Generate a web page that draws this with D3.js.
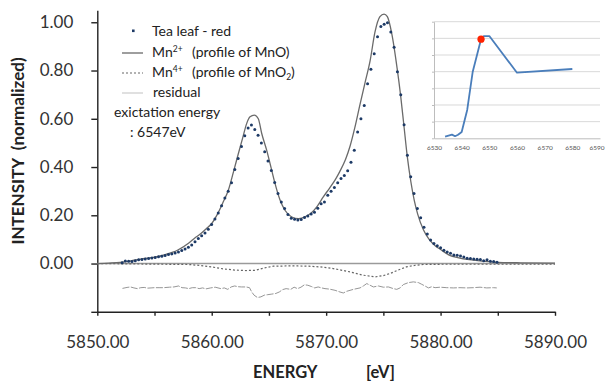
<!DOCTYPE html>
<html><head><meta charset="utf-8">
<script src="https://cdn.jsdelivr.net/npm/d3@7"></script>
<style>html,body{margin:0;padding:0;background:#fff;}svg{display:block;}</style>
</head><body>
<svg id="c" width="605" height="383"></svg>
<script>
// ---------- data ----------
const xTicks = [5850,5855,5860,5865,5870,5875,5880,5885,5890];
const yTicks = [-0.2,0,0.2,0.4,0.6,0.8,1.0];
// measured spectrum: Tea leaf - red  [energy, intensity]
const teaLeaf = [
[5852.17,0.003],[5852.45,0.011],[5852.74,0.010],[5853.03,0.008],[5853.32,0.012],[5853.61,0.016],
[5853.9,0.017],[5854.19,0.019],[5854.48,0.021],[5854.77,0.023],[5855.06,0.025],[5855.35,0.028],
[5855.64,0.030],[5855.93,0.033],[5856.22,0.037],[5856.51,0.040],[5856.8,0.044],[5857.09,0.048],
[5857.38,0.054],[5857.67,0.060],[5857.96,0.068],[5858.25,0.077],[5858.54,0.090],[5858.83,0.104],
[5859.12,0.115],[5859.41,0.127],[5859.7,0.142],[5859.99,0.162],[5860.28,0.185],[5860.57,0.210],
[5860.86,0.240],[5861.15,0.272],[5861.44,0.300],[5861.73,0.335],[5862.02,0.390],[5862.31,0.435],
[5862.6,0.485],[5862.89,0.530],[5863.18,0.562],[5863.47,0.574],[5863.76,0.556],[5864.05,0.532],
[5864.34,0.500],[5864.63,0.463],[5864.92,0.425],[5865.21,0.386],[5865.5,0.336],[5865.79,0.290],
[5866.08,0.255],[5866.37,0.228],[5866.66,0.203],[5866.95,0.188],[5867.24,0.184],[5867.53,0.180],
[5867.82,0.183],[5868.11,0.191],[5868.4,0.197],[5868.69,0.205],[5868.98,0.213],[5869.27,0.229],
[5869.56,0.248],[5869.85,0.255],[5870.14,0.283],[5870.43,0.300],[5870.72,0.315],[5871.01,0.335],
[5871.3,0.352],[5871.59,0.365],[5871.88,0.385],[5872.17,0.420],[5872.46,0.470],[5872.75,0.545],
[5873.04,0.600],[5873.33,0.655],[5873.62,0.745],[5873.91,0.805],[5874.2,0.870],[5874.49,0.940],
[5874.78,0.982],[5875.07,0.992],[5875.36,0.998],[5875.65,0.960],[5875.94,0.896],[5876.23,0.795],
[5876.52,0.700],[5876.81,0.575],[5877.1,0.449],[5877.39,0.360],[5877.68,0.290],[5877.97,0.228],
[5878.26,0.190],[5878.55,0.150],[5878.84,0.122],[5879.13,0.098],[5879.42,0.083],[5879.71,0.074],
[5880.0,0.065],[5880.29,0.055],[5880.58,0.048],[5880.87,0.043],[5881.16,0.035],[5881.45,0.034],
[5881.74,0.031],[5882.03,0.027],[5882.32,0.022],[5882.61,0.021],[5882.9,0.019],[5883.19,0.018],
[5883.48,0.017],[5883.77,0.012],[5884.06,0.016],[5884.35,0.010],[5884.64,0.008],[5884.93,0.005]
];
// Mn2+ (profile of MnO)
const mn2 = [
[5850,0.000],[5851,0.002],[5852,0.005],[5853,0.012],[5854,0.020],[5855,0.027],[5856,0.038],
[5857,0.055],[5858,0.085],[5858.5,0.105],[5859,0.122],[5859.5,0.143],[5860,0.166],[5860.5,0.205],
[5861,0.255],[5861.45,0.304],[5861.9,0.380],[5862.33,0.456],[5862.7,0.520],[5863.06,0.581],
[5863.35,0.608],[5863.72,0.615],[5864.07,0.600],[5864.37,0.539],[5864.8,0.470],[5865.24,0.387],
[5865.53,0.332],[5865.97,0.263],[5866.4,0.221],[5867.0,0.193],[5867.6,0.186],[5868.2,0.195],
[5868.7,0.210],[5869.2,0.236],[5869.75,0.276],[5870.3,0.313],[5870.8,0.348],[5871.2,0.382],
[5871.7,0.432],[5872.1,0.488],[5872.5,0.562],[5872.96,0.660],[5873.4,0.750],[5873.84,0.840],
[5874.27,0.960],[5874.7,1.023],[5875.06,1.034],[5875.35,1.023],[5875.73,0.954],[5876.2,0.810],
[5876.5,0.700],[5876.8,0.570],[5877.1,0.440],[5877.4,0.340],[5877.7,0.262],[5878.0,0.205],
[5878.5,0.140],[5879.0,0.100],[5879.5,0.075],[5880.0,0.058],[5880.8,0.034],[5881.5,0.025],
[5882.5,0.016],[5883.7,0.010],[5885,0.005],[5887,0.003],[5890,0.002]
];
// Mn4+ (profile of MnO2)
const mn4 = [
[5850,0.000],[5852,-0.001],[5854,-0.002],[5856,-0.003],[5858,-0.004],[5859,-0.008],[5860,-0.014],
[5861,-0.022],[5862,-0.027],[5863,-0.029],[5863.8,-0.028],[5864.6,-0.018],[5865.4,-0.011],
[5866.5,-0.010],[5867.5,-0.010],[5868.5,-0.011],[5869.5,-0.014],[5870.4,-0.019],[5871.3,-0.027],
[5872.1,-0.035],[5873.2,-0.048],[5874.3,-0.055],[5875.0,-0.050],[5875.6,-0.041],[5876.3,-0.027],
[5877.0,-0.014],[5877.8,-0.007],[5878.5,-0.004],[5880,-0.003],[5885,-0.003],[5890,-0.003]
];
// residual (offset)
const residual = [
[5852.2,-0.103],[5852.6,-0.099],[5852.9,-0.097],[5853.2,-0.101],[5853.5,-0.104],[5853.8,-0.100],
[5854.1,-0.099],[5854.4,-0.102],[5854.7,-0.101],[5855.0,-0.100],[5855.4,-0.100],[5855.8,-0.100],
[5856.3,-0.098],[5856.7,-0.097],[5857.1,-0.093],[5857.4,-0.100],[5857.7,-0.101],[5858.0,-0.104],
[5858.3,-0.100],[5858.6,-0.100],[5858.9,-0.104],[5859.2,-0.101],[5859.5,-0.105],[5859.9,-0.101],
[5860.3,-0.098],[5860.8,-0.104],[5861.1,-0.101],[5861.4,-0.107],[5861.7,-0.097],[5862.0,-0.093],
[5862.3,-0.096],[5862.6,-0.097],[5863.0,-0.097],[5863.3,-0.100],[5863.5,-0.118],[5863.7,-0.131],
[5864.0,-0.141],[5864.3,-0.138],[5864.6,-0.131],[5864.9,-0.129],[5865.2,-0.127],[5865.6,-0.124],
[5865.9,-0.118],[5866.2,-0.108],[5866.5,-0.104],[5866.9,-0.107],[5867.2,-0.098],[5867.5,-0.104],
[5867.8,-0.098],[5868.1,-0.088],[5868.4,-0.090],[5868.7,-0.095],[5869.0,-0.101],[5869.3,-0.097],
[5869.6,-0.101],[5869.9,-0.104],[5870.3,-0.106],[5870.78,-0.111],[5871.21,-0.118],[5871.5,-0.122],
[5871.8,-0.115],[5872.38,-0.107],[5872.96,-0.101],[5873.25,-0.093],[5873.55,-0.083],[5873.84,-0.090],
[5874.13,-0.097],[5874.57,-0.093],[5875.0,-0.098],[5875.44,-0.097],[5875.88,-0.104],[5876.17,-0.107],
[5876.46,-0.101],[5876.75,-0.087],[5877.19,-0.079],[5877.62,-0.076],[5878.06,-0.079],[5878.35,-0.086],
[5878.64,-0.093],[5878.94,-0.101],[5879.23,-0.096],[5879.52,-0.100],[5879.96,-0.098],[5880.54,-0.100],
[5881.12,-0.101],[5881.7,-0.100],[5882.29,-0.101],[5882.87,-0.100],[5883.45,-0.098],[5884.03,-0.101],
[5884.62,-0.100],[5884.91,-0.101]
];
// inset: excitation spectrum
const insetXTicks = [6530,6540,6550,6560,6570,6580,6590];
const insetYTicks = [0,0.2,0.4,0.6,0.8,1.0,1.2,1.4];
const insetLine = [
[6534,0.020],[6536.5,0.044],[6537.6,0.025],[6538.7,0.042],[6540,0.076],[6542,0.34],[6544,0.80],
[6547,1.19],[6548,1.228],[6550,1.228],[6560,0.788],[6580,0.832]
];
const insetMarker = [[6547,1.19]];

// ---------- drawing ----------
const svg = d3.select("#c");
const FONT = "Lato, 'Open Sans', sans-serif";
const x = d3.scaleLinear().domain([5850,5890]).range([97.3,555]);
const y = d3.scaleLinear().domain([-0.2,1.05]).range([311.8,10.2]);

// x axis
const xAxis = d3.axisBottom(x).tickValues(xTicks).tickSize(4).tickSizeOuter(0).tickPadding(20)
  .tickFormat(d => d % 10 === 0 ? d3.format(".2f")(d) : "");
const gx = svg.append("g").attr("transform", `translate(0,${y(-0.2)})`).call(xAxis);
gx.selectAll("text").attr("font-family", FONT).attr("font-size", 17).attr("fill", "#333");
gx.selectAll("line,path").attr("stroke", "#222").attr("stroke-width", 1.4);

// y axis
const yAxis = d3.axisLeft(y).tickValues(yTicks).tickSize(6).tickSizeOuter(0).tickPadding(18)
  .tickFormat(d => d < -0.01 ? "" : d3.format(".2f")(d));
const gy = svg.append("g").attr("transform", `translate(${x(5850)},0)`).call(yAxis);
gy.selectAll("text").attr("font-family", FONT).attr("font-size", 17).attr("fill", "#333");
gy.selectAll("line,path").attr("stroke", "#222").attr("stroke-width", 1.4);

// zero line
svg.append("line").attr("x1", x(5850)).attr("x2", x(5890)).attr("y1", y(0)).attr("y2", y(0))
  .attr("stroke", "#9a9a9a").attr("stroke-width", 1.4);

const line = d3.line().x(d => x(d[0])).y(d => y(d[1]));
svg.append("path").datum(residual).attr("d", line).attr("fill", "none")
  .attr("stroke", "#8a8a8a").attr("stroke-width", 0.9).attr("stroke-dasharray", "7,1.5");
svg.append("path").datum(mn4).attr("d", line).attr("fill", "none")
  .attr("stroke", "#666").attr("stroke-width", 1.2).attr("stroke-dasharray", "2,2");
svg.append("path").datum(mn2).attr("d", d3.line().curve(d3.curveMonotoneX).x(d => x(d[0])).y(d => y(d[1])))
  .attr("fill", "none").attr("stroke", "#6a6a6a").attr("stroke-width", 1.3);
svg.append("g").selectAll("circle").data(teaLeaf).join("circle")
  .attr("cx", d => x(d[0])).attr("cy", d => y(d[1])).attr("r", 1.5).attr("fill", "#1d3a66");

// axis titles
svg.append("text").attr("transform", `translate(24,151) rotate(-90)`).attr("text-anchor", "middle")
  .attr("font-family", FONT).attr("font-weight", "bold").attr("font-size", 17).attr("fill", "#222")
  .attr("xml:space", "preserve").text("INTENSITY  (normalized)");
svg.append("text").attr("x", 253).attr("y", 378).attr("font-family", FONT).attr("font-weight", "bold")
  .attr("font-size", 16.5).attr("fill", "#222").text("ENERGY");
svg.append("text").attr("x", 366).attr("y", 378).attr("font-family", FONT).attr("font-weight", "bold")
  .attr("font-size", 16.5).attr("fill", "#222").text("[eV]");

// legend
const lg = svg.append("g").attr("font-family", FONT).attr("font-size", 14).attr("fill", "#222");
lg.append("rect").attr("x", 132).attr("y", 29.5).attr("width", 2.6).attr("height", 2.6).attr("fill", "#1d3a66");
lg.append("text").attr("x", 152).attr("y", 36).text("Tea leaf - red");
lg.append("line").attr("x1", 122).attr("x2", 143).attr("y1", 53).attr("y2", 53).attr("stroke", "#6a6a6a").attr("stroke-width", 1.3);
const t2 = lg.append("text").attr("x", 152).attr("y", 57);
t2.append("tspan").text("Mn");
t2.append("tspan").attr("font-size", 8.5).attr("dy", -5).text("2+");
lg.append("text").attr("x", 192).attr("y", 57).text("(profile of MnO)");
lg.append("line").attr("x1", 122).attr("x2", 143).attr("y1", 73).attr("y2", 73).attr("stroke", "#666").attr("stroke-width", 1.2).attr("stroke-dasharray", "2,2");
const t4 = lg.append("text").attr("x", 152).attr("y", 77);
t4.append("tspan").text("Mn");
t4.append("tspan").attr("font-size", 8.5).attr("dy", -5).text("4+");
const t4b = lg.append("text").attr("x", 192).attr("y", 77);
t4b.append("tspan").text("(profile of MnO");
t4b.append("tspan").attr("font-size", 8.5).attr("dy", 3).text("2");
t4b.append("tspan").attr("dy", -3).text(")");
lg.append("line").attr("x1", 122).attr("x2", 143).attr("y1", 93).attr("y2", 93).attr("stroke", "#cfcfcf").attr("stroke-width", 1.3);
lg.append("text").attr("x", 153).attr("y", 97).text("residual");
lg.append("text").attr("x", 114).attr("y", 117).text("exictation energy");
lg.append("text").attr("x", 130).attr("y", 137).text(": 6547eV");

// inset
const ix = d3.scaleLinear().domain([6530,6590]).range([434,600]);
const iy = d3.scaleLinear().domain([0,1.4]).range([138.3,21.7]);
const ig = svg.append("g");
ig.selectAll("line.grid").data(insetYTicks.slice(1)).join("line").attr("class", "grid")
  .attr("x1", ix(6530)).attr("x2", ix(6590)).attr("y1", d => iy(d)).attr("y2", d => iy(d))
  .attr("stroke", "#d9d9d9").attr("stroke-width", 1);
const iyAxis = d3.axisLeft(iy).tickValues(insetYTicks).tickSize(2).tickSizeOuter(0).tickFormat("");
ig.append("g").attr("transform", `translate(${ix(6530)},0)`).call(iyAxis)
  .selectAll("line,path").attr("stroke", "#bdbdbd");
const ixAxis = d3.axisBottom(ix).tickValues(insetXTicks).tickSize(0).tickSizeOuter(0).tickPadding(7)
  .tickFormat(d3.format("d"));
const gix = ig.append("g").attr("transform", `translate(0,${iy(0)})`).call(ixAxis);
gix.selectAll("path").attr("stroke", "#bdbdbd");
gix.selectAll("text").attr("font-family", FONT).attr("font-size", 6.5).attr("fill", "#555")
  .filter(d => d === 6590).attr("text-anchor", "end").attr("x", 604 - ix(6590));
const iline = d3.line().x(d => ix(d[0])).y(d => iy(d[1]));
ig.append("path").datum(insetLine).attr("d", iline).attr("fill", "none")
  .attr("stroke", "#4a7ebb").attr("stroke-width", 1.8).attr("stroke-linejoin", "round");
ig.selectAll("circle").data(insetMarker).join("circle")
  .attr("cx", d => ix(d[0])).attr("cy", d => iy(d[1])).attr("r", 3.6).attr("fill", "#ff2200");
</script>
</body></html>
